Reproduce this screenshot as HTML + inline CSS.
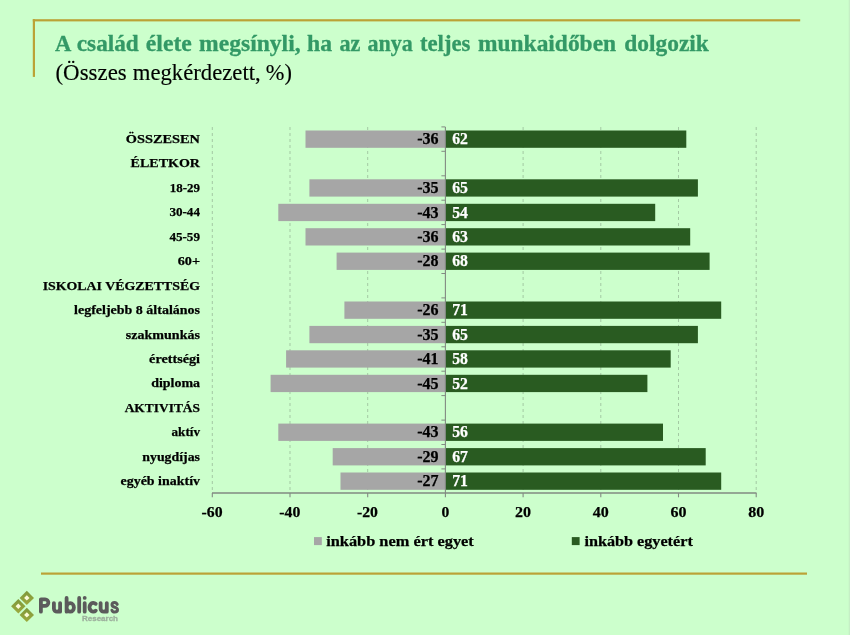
<!DOCTYPE html>
<html><head><meta charset="utf-8"><title>chart</title>
<style>
html,body{margin:0;padding:0;background:#ccffcc;}
body{width:850px;height:635px;overflow:hidden;}
svg{display:block;font-family:"Liberation Serif",serif;will-change:transform;}
.b{font-weight:bold;}
.lab{font-weight:bold;text-anchor:end;fill:#000;stroke:#000;stroke-width:0.25px;}
.vn{font-size:16px;font-weight:bold;text-anchor:end;fill:#000;stroke:#000;stroke-width:0.25px;}
.vp{font-size:15.7px;font-weight:bold;fill:#fff;stroke:#fff;stroke-width:0.25px;}
.ax{font-size:15.5px;font-weight:bold;text-anchor:middle;fill:#000;stroke:#000;stroke-width:0.25px;}
.lg{font-size:15.5px;font-weight:bold;fill:#000;stroke:#000;stroke-width:0.25px;}
</style></head><body>
<svg width="850" height="635" viewBox="0 0 850 635">

<rect x="32.8" y="19.2" width="767.4" height="2.2" fill="#bba236"/>
<rect x="32.8" y="19.2" width="2.2" height="57.7" fill="#bba236"/>
<g class="b" font-size="22.7" fill="#339966" stroke="#339966" stroke-width="0.3">
<text x="55.1" y="50.7" textLength="16.3" lengthAdjust="spacingAndGlyphs">A</text>
<text x="76.8" y="50.7" textLength="62.0" lengthAdjust="spacingAndGlyphs">család</text>
<text x="145.8" y="50.7" textLength="46.0" lengthAdjust="spacingAndGlyphs">élete</text>
<text x="199.1" y="50.7" textLength="101.5" lengthAdjust="spacingAndGlyphs">megsínyli,</text>
<text x="307.0" y="50.7" textLength="25.0" lengthAdjust="spacingAndGlyphs">ha</text>
<text x="339.5" y="50.7" textLength="20.9" lengthAdjust="spacingAndGlyphs">az</text>
<text x="367.6" y="50.7" textLength="45.3" lengthAdjust="spacingAndGlyphs">anya</text>
<text x="419.9" y="50.7" textLength="50.6" lengthAdjust="spacingAndGlyphs">teljes</text>
<text x="478.0" y="50.7" textLength="138.1" lengthAdjust="spacingAndGlyphs">munkaidőben</text>
<text x="624.2" y="50.7" textLength="84.7" lengthAdjust="spacingAndGlyphs">dolgozik</text>
</g>
<g font-size="23.6" fill="#000" stroke="#000" stroke-width="0.15">
<text x="55.5" y="80.1" textLength="71.2" lengthAdjust="spacingAndGlyphs">(Összes</text>
<text x="132.8" y="80.1" textLength="127.9" lengthAdjust="spacingAndGlyphs">megkérdezett,</text>
<text x="265.8" y="80.1" textLength="26.1" lengthAdjust="spacingAndGlyphs">%)</text>
</g>
<line x1="212.3" y1="127" x2="212.3" y2="493" stroke="#a3c9a3" stroke-width="1" stroke-dasharray="3,3"/>
<line x1="290.0" y1="127" x2="290.0" y2="493" stroke="#a3c9a3" stroke-width="1" stroke-dasharray="3,3"/>
<line x1="367.7" y1="127" x2="367.7" y2="493" stroke="#a3c9a3" stroke-width="1" stroke-dasharray="3,3"/>
<line x1="523.1" y1="127" x2="523.1" y2="493" stroke="#a3c9a3" stroke-width="1" stroke-dasharray="3,3"/>
<line x1="600.8" y1="127" x2="600.8" y2="493" stroke="#a3c9a3" stroke-width="1" stroke-dasharray="3,3"/>
<line x1="678.5" y1="127" x2="678.5" y2="493" stroke="#a3c9a3" stroke-width="1" stroke-dasharray="3,3"/>
<line x1="756.2" y1="127" x2="756.2" y2="493" stroke="#a3c9a3" stroke-width="1" stroke-dasharray="3,3"/>
<text x="200" y="143.0" class="lab" font-size="13.5" textLength="74.2" lengthAdjust="spacingAndGlyphs">ÖSSZESEN</text>
<rect x="305.5" y="130.5" width="139.9" height="17.3" fill="#a6a6a6"/>
<rect x="445.4" y="130.5" width="240.9" height="17.3" fill="#295b21"/>
<text x="438.5" y="144.2" class="vn">-36</text>
<text x="452.2" y="144.2" class="vp">62</text>
<text x="200" y="167.4" class="lab" font-size="13.5" textLength="69.4" lengthAdjust="spacingAndGlyphs">ÉLETKOR</text>
<text x="200" y="191.9" class="lab" font-size="13.0" textLength="30.2" lengthAdjust="spacingAndGlyphs">18-29</text>
<rect x="309.4" y="179.3" width="136.0" height="17.3" fill="#a6a6a6"/>
<rect x="445.4" y="179.3" width="252.5" height="17.3" fill="#295b21"/>
<text x="438.5" y="193.1" class="vn">-35</text>
<text x="452.2" y="193.1" class="vp">65</text>
<text x="200" y="216.3" class="lab" font-size="13.0" textLength="30.6" lengthAdjust="spacingAndGlyphs">30-44</text>
<rect x="278.3" y="203.8" width="167.1" height="17.3" fill="#a6a6a6"/>
<rect x="445.4" y="203.8" width="209.8" height="17.3" fill="#295b21"/>
<text x="438.5" y="217.5" class="vn">-43</text>
<text x="452.2" y="217.5" class="vp">54</text>
<text x="200" y="240.7" class="lab" font-size="13.0" textLength="30.6" lengthAdjust="spacingAndGlyphs">45-59</text>
<rect x="305.5" y="228.2" width="139.9" height="17.3" fill="#a6a6a6"/>
<rect x="445.4" y="228.2" width="244.8" height="17.3" fill="#295b21"/>
<text x="438.5" y="241.9" class="vn">-36</text>
<text x="452.2" y="241.9" class="vp">63</text>
<text x="200" y="265.2" class="lab" font-size="13.0" textLength="22.3" lengthAdjust="spacingAndGlyphs">60+</text>
<rect x="336.6" y="252.6" width="108.8" height="17.3" fill="#a6a6a6"/>
<rect x="445.4" y="252.6" width="264.2" height="17.3" fill="#295b21"/>
<text x="438.5" y="266.4" class="vn">-28</text>
<text x="452.2" y="266.4" class="vp">68</text>
<text x="200" y="289.6" class="lab" font-size="13.5" textLength="157.3" lengthAdjust="spacingAndGlyphs">ISKOLAI VÉGZETTSÉG</text>
<text x="200" y="314.0" class="lab" font-size="13.0" textLength="125.9" lengthAdjust="spacingAndGlyphs">legfeljebb 8 általános</text>
<rect x="344.4" y="301.5" width="101.0" height="17.3" fill="#a6a6a6"/>
<rect x="445.4" y="301.5" width="275.8" height="17.3" fill="#295b21"/>
<text x="438.5" y="315.2" class="vn">-26</text>
<text x="452.2" y="315.2" class="vp">71</text>
<text x="200" y="338.5" class="lab" font-size="13.0" textLength="74.2" lengthAdjust="spacingAndGlyphs">szakmunkás</text>
<rect x="309.4" y="325.9" width="136.0" height="17.3" fill="#a6a6a6"/>
<rect x="445.4" y="325.9" width="252.5" height="17.3" fill="#295b21"/>
<text x="438.5" y="339.7" class="vn">-35</text>
<text x="452.2" y="339.7" class="vp">65</text>
<text x="200" y="362.9" class="lab" font-size="13.0" textLength="50.9" lengthAdjust="spacingAndGlyphs">érettségi</text>
<rect x="286.1" y="350.3" width="159.3" height="17.3" fill="#a6a6a6"/>
<rect x="445.4" y="350.3" width="225.3" height="17.3" fill="#295b21"/>
<text x="438.5" y="364.1" class="vn">-41</text>
<text x="452.2" y="364.1" class="vp">58</text>
<text x="200" y="387.3" class="lab" font-size="13.0" textLength="48.8" lengthAdjust="spacingAndGlyphs">diploma</text>
<rect x="270.6" y="374.8" width="174.8" height="17.3" fill="#a6a6a6"/>
<rect x="445.4" y="374.8" width="202.0" height="17.3" fill="#295b21"/>
<text x="438.5" y="388.5" class="vn">-45</text>
<text x="452.2" y="388.5" class="vp">52</text>
<text x="200" y="411.7" class="lab" font-size="13.5" textLength="75.3" lengthAdjust="spacingAndGlyphs">AKTIVITÁS</text>
<text x="200" y="436.2" class="lab" font-size="13.0" textLength="28.5" lengthAdjust="spacingAndGlyphs">aktív</text>
<rect x="278.3" y="423.6" width="167.1" height="17.3" fill="#a6a6a6"/>
<rect x="445.4" y="423.6" width="217.6" height="17.3" fill="#295b21"/>
<text x="438.5" y="437.4" class="vn">-43</text>
<text x="452.2" y="437.4" class="vp">56</text>
<text x="200" y="460.6" class="lab" font-size="13.0" textLength="57.7" lengthAdjust="spacingAndGlyphs">nyugdíjas</text>
<rect x="332.7" y="448.1" width="112.7" height="17.3" fill="#a6a6a6"/>
<rect x="445.4" y="448.1" width="260.3" height="17.3" fill="#295b21"/>
<text x="438.5" y="461.8" class="vn">-29</text>
<text x="452.2" y="461.8" class="vp">67</text>
<text x="200" y="485.0" class="lab" font-size="13.0" textLength="79.5" lengthAdjust="spacingAndGlyphs">egyéb inaktív</text>
<rect x="340.5" y="472.5" width="104.9" height="17.3" fill="#a6a6a6"/>
<rect x="445.4" y="472.5" width="275.8" height="17.3" fill="#295b21"/>
<text x="438.5" y="486.2" class="vn">-27</text>
<text x="452.2" y="486.2" class="vp">71</text>
<line x1="445.4" y1="126.9" x2="445.4" y2="497.3" stroke="#828a82" stroke-width="1.1"/>
<line x1="441.4" y1="126.9" x2="445.4" y2="126.9" stroke="#828a82" stroke-width="1"/>
<line x1="441.4" y1="151.3" x2="445.4" y2="151.3" stroke="#828a82" stroke-width="1"/>
<line x1="441.4" y1="175.8" x2="445.4" y2="175.8" stroke="#828a82" stroke-width="1"/>
<line x1="441.4" y1="200.2" x2="445.4" y2="200.2" stroke="#828a82" stroke-width="1"/>
<line x1="441.4" y1="224.6" x2="445.4" y2="224.6" stroke="#828a82" stroke-width="1"/>
<line x1="441.4" y1="249.1" x2="445.4" y2="249.1" stroke="#828a82" stroke-width="1"/>
<line x1="441.4" y1="273.5" x2="445.4" y2="273.5" stroke="#828a82" stroke-width="1"/>
<line x1="441.4" y1="297.9" x2="445.4" y2="297.9" stroke="#828a82" stroke-width="1"/>
<line x1="441.4" y1="322.3" x2="445.4" y2="322.3" stroke="#828a82" stroke-width="1"/>
<line x1="441.4" y1="346.8" x2="445.4" y2="346.8" stroke="#828a82" stroke-width="1"/>
<line x1="441.4" y1="371.2" x2="445.4" y2="371.2" stroke="#828a82" stroke-width="1"/>
<line x1="441.4" y1="395.6" x2="445.4" y2="395.6" stroke="#828a82" stroke-width="1"/>
<line x1="441.4" y1="420.1" x2="445.4" y2="420.1" stroke="#828a82" stroke-width="1"/>
<line x1="441.4" y1="444.5" x2="445.4" y2="444.5" stroke="#828a82" stroke-width="1"/>
<line x1="441.4" y1="468.9" x2="445.4" y2="468.9" stroke="#828a82" stroke-width="1"/>
<line x1="212" y1="492.9" x2="756.5" y2="492.9" stroke="#828a82" stroke-width="1.5"/>
<line x1="212.3" y1="493" x2="212.3" y2="497.3" stroke="#828a82" stroke-width="1.1"/>
<text x="212.1" y="516.5" class="ax" textLength="21.0" lengthAdjust="spacingAndGlyphs">-60</text>
<line x1="290.0" y1="493" x2="290.0" y2="497.3" stroke="#828a82" stroke-width="1.1"/>
<text x="289.8" y="516.5" class="ax" textLength="21.0" lengthAdjust="spacingAndGlyphs">-40</text>
<line x1="367.7" y1="493" x2="367.7" y2="497.3" stroke="#828a82" stroke-width="1.1"/>
<text x="367.5" y="516.5" class="ax" textLength="21.0" lengthAdjust="spacingAndGlyphs">-20</text>
<text x="445.4" y="516.5" class="ax" textLength="7.8" lengthAdjust="spacingAndGlyphs">0</text>
<line x1="523.1" y1="493" x2="523.1" y2="497.3" stroke="#828a82" stroke-width="1.1"/>
<text x="523.1" y="516.5" class="ax" textLength="16.0" lengthAdjust="spacingAndGlyphs">20</text>
<line x1="600.8" y1="493" x2="600.8" y2="497.3" stroke="#828a82" stroke-width="1.1"/>
<text x="600.8" y="516.5" class="ax" textLength="16.0" lengthAdjust="spacingAndGlyphs">40</text>
<line x1="678.5" y1="493" x2="678.5" y2="497.3" stroke="#828a82" stroke-width="1.1"/>
<text x="678.5" y="516.5" class="ax" textLength="16.0" lengthAdjust="spacingAndGlyphs">60</text>
<line x1="756.2" y1="493" x2="756.2" y2="497.3" stroke="#828a82" stroke-width="1.1"/>
<text x="756.2" y="516.5" class="ax" textLength="16.0" lengthAdjust="spacingAndGlyphs">80</text>
<rect x="314" y="537.1" width="7.8" height="8" fill="#a6a6a6"/>
<text x="326.2" y="545.5" class="lg" textLength="147.6" lengthAdjust="spacingAndGlyphs">inkább nem ért egyet</text>
<rect x="571.8" y="537.1" width="7.8" height="8" fill="#295b21"/>
<text x="584.4" y="545.5" class="lg" textLength="108.4" lengthAdjust="spacingAndGlyphs">inkább egyetért</text>
<rect x="41" y="572.5" width="766" height="2.2" fill="#bba236"/>
<rect x="848.7" y="0" width="1.3" height="635" fill="#c5efc5"/>
<defs><linearGradient id="lgd" x1="0" y1="0" x2="0" y2="1"><stop offset="0" stop-color="#7d983a"/><stop offset="1" stop-color="#9dab3e"/></linearGradient></defs>
<g>
<path d="M26.8 590.7 L34.0 597.9 L26.8 605.1 L19.6 597.9 Z" fill="url(#lgd)"/>
<path d="M18.3 599.1 L25.5 606.3 L18.3 613.5 L11.1 606.3 Z" fill="url(#lgd)"/>
<path d="M26.8 607.7 L34.0 614.9 L26.8 622.1 L19.6 614.9 Z" fill="url(#lgd)"/>
<path d="M26.8 595.2 L29.5 597.9 L26.8 600.6 L24.1 597.9 Z" fill="#fbfbd8"/>
<path d="M18.3 603.6 L21.0 606.3 L18.3 609.0 L15.6 606.3 Z" fill="#fbfbd8"/>
<path d="M26.8 612.2 L29.5 614.9 L26.8 617.6 L24.1 614.9 Z" fill="#fbfbd8"/>
</g>
<path d="M40.9 611.7 V599.3 H45.1 a3.25 3.25 0 0 1 0 6.5 H40.9 M53.9 603.1 V608.6 a3.1 3.1 0 0 0 6.2 0 V603.1 M60.1 603.1 V611.7 M66.6 598 V611.7 M66.6 607.4 a3.65 4.3 0 1 1 7.3 0 a3.65 4.3 0 1 1 -7.3 0 M79.2 598 V611.7 M84.7 603.1 V611.7 M84.7 597.85 v0.1 M95.74 603.84 A3.8 4.45 0 1 0 95.74 610.66 M100.6 603.1 V608.6 a3.1 3.1 0 0 0 6.2 0 V603.1 M106.8 603.1 V611.7 " fill="none" stroke="#5b5b5b" stroke-width="3.8" stroke-linecap="round" stroke-linejoin="round"/><path d="M117.2 604.4 C116.7 603.1 115.8 602.4 114.6 602.4 C113.1 602.4 112 603.3 112 604.7 C112 606.2 113.3 606.8 114.7 607.2 C116.2 607.7 117.5 608.3 117.5 609.8 C117.5 611.2 116.3 612.1 114.8 612.1 C113.5 612.1 112.4 611.5 111.9 610.2" fill="none" stroke="#5b5b5b" stroke-width="3.0" stroke-linecap="round" stroke-linejoin="round"/>
<text x="82" y="621.4" font-family="Liberation Sans, sans-serif" font-weight="bold" font-size="7.2" fill="#9db09d" stroke="#9db09d" stroke-width="0.3" textLength="36" lengthAdjust="spacingAndGlyphs">Research</text>
</svg></body></html>
